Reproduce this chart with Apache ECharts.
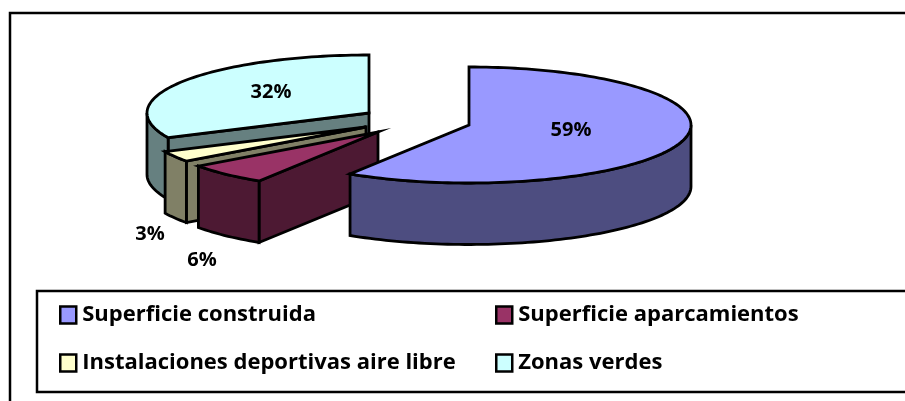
<!DOCTYPE html>
<html><head><meta charset="utf-8">
<style>html,body{margin:0;padding:0;background:#fff}#c{width:905px;height:401px}</style>
<script src="https://cdn.jsdelivr.net/npm/echarts@6/dist/echarts.min.js"></script>
</head><body><div id="c"></div>
<script>
const categories = ['Superficie construida','Superficie aparcamientos','Instalaciones deportivas aire libre','Zonas verdes'];
const values = [59, 6, 3, 32];
const topColors = ['#9999FF','#993366','#FFFFCC','#CCFFFF'];
const sideColors = ['#4D4D80','#4D1933','#808066','#668080'];
const apexes = [[469,125],[378,132],[366,127],[369,113]];
const labelPositions = [[571,130],[202,260],[150,234],[271,92]];
const RX=222, RY=58, DEPTH=61.5, FONT='"Open Sans","Noto Sans",sans-serif';

const total = values.reduce((a,b)=>a+b,0);
let acc=0;
const spans = values.map(v=>{const s=acc; acc+=v; return [s/total*360, acc/total*360];});
function rim(c,deg,dy){const r=deg*Math.PI/180; return [c[0]+RX*Math.sin(r), c[1]-RY*Math.cos(r)+(dy||0)];}
function arc(c,a,b,dy){const pts=[];const n=Math.max(2,Math.ceil(Math.abs(b-a)/1.5));for(let i=0;i<=n;i++)pts.push(rim(c,a+(b-a)*i/n,dy));return pts;}
const line={stroke:'#000',lineWidth:2.8,lineJoin:'miter',miterLimit:10};

function renderSlice(idx){
  return function(params,api){
    const v=api.value(0), [a,b]=spans[idx], c=apexes[idx], kids=[];
    const poly=(pts,fill)=>kids.push({type:'polygon',shape:{points:pts},style:Object.assign({fill},line)});
    // radial cut face on the start edge when it faces the viewer
    if(a>90&&a<270){const p=rim(c,a);poly([c,p,[p[0],p[1]+DEPTH],[c[0],c[1]+DEPTH]],sideColors[idx]);}
    // outer wall (front half of the rim only)
    const wa=Math.max(a,90), wb=Math.min(b,270);
    if(wb>wa) poly(arc(c,wa,wb).concat(arc(c,wb,wa,DEPTH)),sideColors[idx]);
    // top face
    poly([c].concat(arc(c,a,b)),topColors[idx]);
    // label
    const lp=labelPositions[idx];
    kids.push({type:'text',x:lp[0],y:lp[1],style:{text:v+'%',fill:'#000',font:'bold 20px '+FONT,textAlign:'center',textVerticalAlign:'middle'}});
    return {type:'group',children:kids};
  };
}
const zLevels=[4,3,2,1];
const series=categories.map((name,i)=>({
  type:'custom',name,coordinateSystem:'none',z:zLevels[i],silent:true,animation:false,
  itemStyle:{color:topColors[i]},
  renderItem:renderSlice(i),data:[[values[i]]]
}));
const legendBase={orient:'vertical',padding:0,itemWidth:16,itemHeight:17,itemGap:20,icon:'rect',
  itemStyle:{borderColor:'#000',borderWidth:2.5},
  textStyle:{fontFamily:FONT,fontWeight:'bold',fontSize:22,lineHeight:22,color:'#000',padding:[6,0,0,1]},selectedMode:false};
const chart=echarts.init(document.getElementById('c'),null,{renderer:'canvas'});
chart.setOption({
  animation:false,backgroundColor:'#fff',
  legend:[
    Object.assign({},legendBase,{left:59,top:301,data:[categories[0],categories[2]]}),
    Object.assign({},legendBase,{left:495,top:301,data:[categories[1],categories[3]]})
  ],
  graphic:[
    {type:'rect',z:0,shape:{x:10,y:13,width:920,height:420},style:{fill:'none',stroke:'#000',lineWidth:2.5}},
    {type:'rect',z:0,shape:{x:37,y:291,width:900,height:101},style:{fill:'none',stroke:'#000',lineWidth:2.5}}
  ],
  series
});
</script></body></html>
